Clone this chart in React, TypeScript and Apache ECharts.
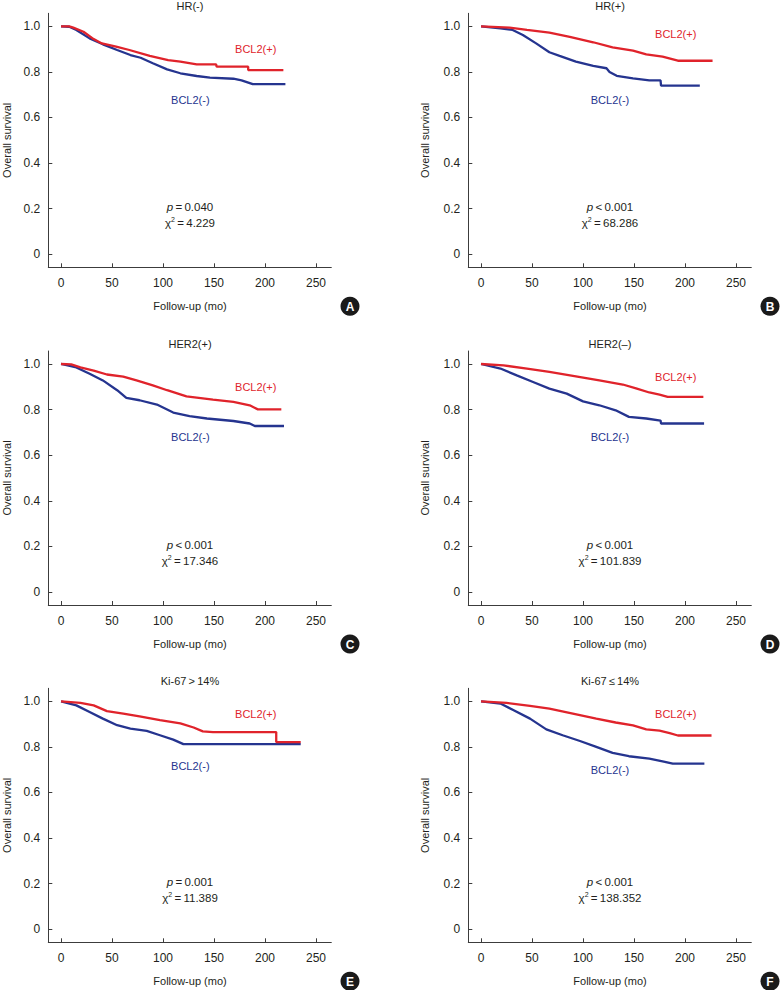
import React, { useEffect, useRef } from "react";
import * as echarts from "echarts";

// ---- Data ----
const xTicks = [0, 50, 100, 150, 200, 250];
const yTicks = [0, 0.2, 0.4, 0.6, 0.8, 1.0];
const panelTitles = ["HR(-)", "HR(+)", "HER2(+)", "HER2(\u2013)", "Ki-67\u2009>\u200914%", "Ki-67\u2009\u2264\u200914%"];
const panelLetters = ["A", "B", "C", "D", "E", "F"];
const pOps = ["=", "<", "<", "<", "=", "<"];
const pValues = ["0.040", "0.001", "0.001", "0.001", "0.001", "0.001"];
const chiValues = ["4.229", "68.286", "17.346", "101.839", "11.389", "138.352"];

// [month, survival] for BCL2(+)
const hrNegBcl2Pos = [[0, 1], [8, 1], [12, 0.994], [22, 0.976], [32, 0.944], [40, 0.925], [54, 0.911], [67, 0.896], [87, 0.87], [105, 0.852], [117, 0.845], [133, 0.833], [152, 0.833], [152.6, 0.823], [183.5, 0.823], [183.5, 0.808], [218, 0.808]];
const hrPosBcl2Pos = [[0, 1], [28, 0.994], [45, 0.984], [67, 0.972], [87, 0.954], [110, 0.93], [129, 0.908], [149, 0.893], [162, 0.877], [178, 0.867], [193, 0.849], [227, 0.849]];
const her2PosBcl2Pos = [[0, 1], [10, 0.998], [19, 0.985], [32, 0.971], [45, 0.954], [61, 0.945], [74, 0.928], [90, 0.906], [104, 0.885], [123, 0.858], [149, 0.844], [169, 0.834], [185, 0.819], [193, 0.801], [216, 0.801]];
const her2NegBcl2Pos = [[0, 1], [22, 0.994], [45, 0.98], [67, 0.965], [93, 0.946], [116, 0.928], [139, 0.91], [152, 0.893], [165, 0.875], [175, 0.866], [183, 0.856], [218, 0.856]];
const kiHighBcl2Pos = [[0, 1], [19, 0.993], [32, 0.982], [45, 0.957], [61, 0.946], [77, 0.934], [97, 0.917], [117, 0.903], [130, 0.885], [139, 0.868], [149, 0.865], [211, 0.865], [211, 0.821], [235, 0.821]];
const kiLowBcl2Pos = [[0, 1], [25, 0.993], [48, 0.98], [67, 0.968], [90, 0.946], [113, 0.924], [132, 0.907], [149, 0.894], [162, 0.877], [175, 0.871], [185, 0.86], [193, 0.85], [226, 0.85]];

// [month, survival] for BCL2(-)
const hrNegBcl2Neg = [[0, 1], [8, 0.998], [15, 0.984], [28, 0.947], [41, 0.921], [55, 0.896], [68, 0.874], [78, 0.862], [90, 0.838], [104, 0.811], [117, 0.794], [133, 0.782], [146, 0.775], [169, 0.77], [177, 0.763], [188, 0.746], [220, 0.746]];
const hrPosBcl2Neg = [[0, 1], [19, 0.991], [31, 0.984], [41, 0.962], [54, 0.925], [67, 0.886], [77, 0.87], [93, 0.845], [110, 0.826], [123, 0.816], [126, 0.8], [133, 0.783], [149, 0.772], [165, 0.763], [176, 0.763], [176.5, 0.74], [214.5, 0.74]];
const her2PosBcl2Neg = [[0, 1], [15, 0.985], [28, 0.957], [41, 0.928], [55, 0.885], [64, 0.851], [77, 0.841], [94, 0.822], [110, 0.787], [126, 0.771], [143, 0.761], [169, 0.75], [185, 0.739], [190, 0.728], [218.6, 0.728]];
const her2NegBcl2Neg = [[0, 1], [19, 0.98], [35, 0.95], [51, 0.921], [67, 0.892], [84, 0.87], [100, 0.836], [116, 0.819], [132, 0.797], [145, 0.768], [162, 0.761], [176, 0.752], [176.5, 0.739], [218.7, 0.739]];
const kiHighBcl2Neg = [[0, 1], [15, 0.982], [28, 0.953], [41, 0.924], [55, 0.895], [68, 0.88], [84, 0.87], [97, 0.851], [110, 0.832], [120, 0.812], [235, 0.812]];
const kiLowBcl2Neg = [[0, 1], [19, 0.99], [32, 0.961], [48, 0.924], [64, 0.877], [80, 0.851], [97, 0.826], [113, 0.8], [129, 0.774], [145, 0.759], [165, 0.749], [178, 0.737], [188, 0.727], [219, 0.727]];

const bcl2PosSeries = [hrNegBcl2Pos, hrPosBcl2Pos, her2PosBcl2Pos, her2NegBcl2Pos, kiHighBcl2Pos, kiLowBcl2Pos];
const bcl2NegSeries = [hrNegBcl2Neg, hrPosBcl2Neg, her2PosBcl2Neg, her2NegBcl2Neg, kiHighBcl2Neg, kiLowBcl2Neg];

// ---- Layout ----
const COL_LEFT = [48.3, 468.3];
const ROW_TOP = [13.3, 351, 688.3];
const GRID_W = 283;
const GRID_H = 254;
// label centers (absolute px) for BCL2(+) / BCL2(-)
const posLabelXY = [[255.7, 49.3], [675.7, 34.3], [255.7, 386.7], [675.7, 377.3], [255.7, 714], [675.7, 714.3]];
const negLabelXY = [[190.3, 100], [610, 100], [190.3, 437.3], [610, 437.3], [190.3, 765.7], [610, 770]];

const RED = "#e0232b";
const BLUE = "#25348f";
const TXT = "#231f20";
const AXIS = "#3c3c3c";
const FONT = "'Liberation Sans', Arial, Helvetica, sans-serif";

export default function App() {
  const ref = useRef<HTMLDivElement>(null);
  useEffect(() => {
    if (!ref.current) return;
    const chart = echarts.init(ref.current, null, { renderer: "svg" });
    const grids: any[] = [];
    const xAxes: any[] = [];
    const yAxes: any[] = [];
    const series: any[] = [];
    const graphics: any[] = [];

    for (let i = 0; i < 6; i++) {
      const col = i % 2;
      const row = Math.floor(i / 2);
      const left = COL_LEFT[col];
      const top = ROW_TOP[row];
      grids.push({ left, top, width: GRID_W, height: GRID_H });
      xAxes.push({
        type: "value",
        gridIndex: i,
        min: -12.5,
        max: 265,
        axisLine: { show: true, onZero: false, lineStyle: { color: AXIS, width: 1 } },
        axisTick: { show: true, inside: true, length: 4, customValues: xTicks, lineStyle: { color: AXIS } },
        axisLabel: { customValues: xTicks, color: TXT, fontSize: 12, fontFamily: FONT, margin: 10 },
        splitLine: { show: false },
      });
      yAxes.push({
        type: "value",
        gridIndex: i,
        min: -0.057,
        max: 1.057,
        axisLine: { show: true, onZero: false, lineStyle: { color: AXIS, width: 1 } },
        axisTick: { show: true, inside: true, length: 4, customValues: yTicks, lineStyle: { color: AXIS } },
        axisLabel: {
          customValues: yTicks,
          color: TXT,
          fontSize: 12,
          fontFamily: FONT,
          margin: 8,
          formatter: (v: number) => (v === 0 ? "0" : v.toFixed(1)),
        },
        splitLine: { show: false },
      });
      series.push({
        type: "line",
        name: "BCL2(-)",
        xAxisIndex: i,
        yAxisIndex: i,
        data: bcl2NegSeries[i],
        showSymbol: false,
        symbol: "none",
        lineStyle: { color: BLUE, width: 2.3 },
        z: 2,
      });
      series.push({
        type: "line",
        name: "BCL2(+)",
        xAxisIndex: i,
        yAxisIndex: i,
        data: bcl2PosSeries[i],
        showSymbol: false,
        symbol: "none",
        lineStyle: { color: RED, width: 2.3 },
        z: 3,
      });

      const cx = left + 141.7;
      // title
      graphics.push({
        type: "text",
        x: cx,
        y: top - 7,
        style: { text: panelTitles[i], fill: TXT, font: `11px ${FONT}`, align: "center", verticalAlign: "middle" },
      });
      // curve labels
      graphics.push({
        type: "text",
        x: posLabelXY[i][0],
        y: posLabelXY[i][1],
        style: { text: "BCL2(+)", fill: RED, font: `11px ${FONT}`, align: "center", verticalAlign: "middle" },
      });
      graphics.push({
        type: "text",
        x: negLabelXY[i][0],
        y: negLabelXY[i][1],
        style: { text: "BCL2(-)", fill: BLUE, font: `11px ${FONT}`, align: "center", verticalAlign: "middle" },
      });
      // statistics
      graphics.push({
        type: "text",
        x: cx,
        y: top + 194,
        style: {
          text: `{i|p}{n|\u2009${pOps[i]}\u2009${pValues[i]}}`,
          align: "center",
          verticalAlign: "middle",
          rich: {
            i: { fontSize: 11.5, fontStyle: "italic", fontFamily: FONT, fill: TXT, lineHeight: 14 },
            n: { fontSize: 11.5, fontFamily: FONT, fill: TXT, lineHeight: 14 },
          },
        },
      });
      graphics.push({
        type: "text",
        x: cx,
        y: top + 209.5,
        style: {
          text: `{n|\u03c7}{s|2}{n|\u2009=\u2009${chiValues[i]}}`,
          align: "center",
          verticalAlign: "middle",
          rich: {
            n: { fontSize: 11.5, fontFamily: FONT, fill: TXT, lineHeight: 14 },
            s: { fontSize: 7, fontFamily: FONT, fill: TXT, lineHeight: 8, verticalAlign: "top" },
          },
        },
      });
      // axis titles
      graphics.push({
        type: "text",
        x: cx,
        y: top + 293,
        style: { text: "Follow-up (mo)", fill: TXT, font: `11px ${FONT}`, align: "center", verticalAlign: "middle" },
      });
      graphics.push({
        type: "text",
        x: left - (col === 0 ? 41.6 : 43),
        y: top + 127,
        rotation: Math.PI / 2,
        style: { text: "Overall survival", fill: TXT, font: `11px ${FONT}`, align: "center", verticalAlign: "middle" },
      });
      // panel badge
      graphics.push({
        type: "circle",
        shape: { cx: left + 301.7, cy: top + 293, r: 9.5 },
        style: { fill: "#1a1a1a" },
      });
      graphics.push({
        type: "text",
        x: left + 301.7,
        y: top + 293.5,
        style: { text: panelLetters[i], fill: "#ffffff", font: `bold 12px ${FONT}`, align: "center", verticalAlign: "middle" },
      });
    }

    chart.setOption({
      animation: false,
      backgroundColor: "#ffffff",
      grid: grids,
      xAxis: xAxes,
      yAxis: yAxes,
      series,
      graphic: graphics,
    });
    return () => chart.dispose();
  }, []);

  return (
    <div
      ref={ref}
      style={{ position: "fixed", left: 0, top: 0, width: 780, height: 990, background: "#fff" }}
    />
  );
}
